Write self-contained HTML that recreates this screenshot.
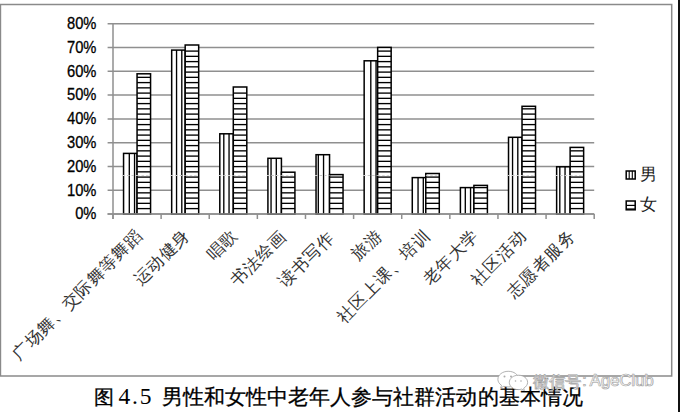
<!DOCTYPE html>
<html><head><meta charset="utf-8"><style>
html,body{margin:0;padding:0;background:#fff;width:680px;height:412px;overflow:hidden}
svg{display:block}
</style></head><body>
<svg width="680" height="412" viewBox="0 0 680 412">
<rect x="0" y="0" width="680" height="412" fill="#fff"/>
<path d="M0.45 4.4 H671.7 V375.9 H0.45 Z" fill="none" stroke="#8a8a8a" stroke-width="1.5"/>
<rect x="678" y="0" width="2" height="412" fill="#111"/>
<line x1="107.6" y1="23.70" x2="594.2" y2="23.70" stroke="#8f8f8f" stroke-width="1.5"/>
<line x1="107.6" y1="47.50" x2="594.2" y2="47.50" stroke="#8f8f8f" stroke-width="1.5"/>
<line x1="107.6" y1="71.30" x2="594.2" y2="71.30" stroke="#8f8f8f" stroke-width="1.5"/>
<line x1="107.6" y1="95.10" x2="594.2" y2="95.10" stroke="#8f8f8f" stroke-width="1.5"/>
<line x1="107.6" y1="118.90" x2="594.2" y2="118.90" stroke="#8f8f8f" stroke-width="1.5"/>
<line x1="107.6" y1="142.70" x2="594.2" y2="142.70" stroke="#8f8f8f" stroke-width="1.5"/>
<line x1="107.6" y1="166.50" x2="594.2" y2="166.50" stroke="#8f8f8f" stroke-width="1.5"/>
<line x1="107.6" y1="190.30" x2="594.2" y2="190.30" stroke="#8f8f8f" stroke-width="1.5"/>
<line x1="107.6" y1="214.10" x2="594.2" y2="214.10" stroke="#8f8f8f" stroke-width="1.5"/>
<rect x="123.56" y="153.40" width="13.5" height="60.70" fill="#fff" stroke="#000" stroke-width="1.5"/>
<line x1="129.30" y1="153.40" x2="129.30" y2="214.1" stroke="#000" stroke-width="1.35"/>
<line x1="134.55" y1="153.40" x2="134.55" y2="214.1" stroke="#000" stroke-width="1.35"/>
<rect x="137.06" y="73.80" width="13.5" height="140.30" fill="#fff" stroke="#000" stroke-width="1.5"/>
<line x1="137.06" y1="208.60" x2="150.56" y2="208.60" stroke="#000" stroke-width="1.35"/>
<line x1="137.06" y1="203.35" x2="150.56" y2="203.35" stroke="#000" stroke-width="1.35"/>
<line x1="137.06" y1="198.10" x2="150.56" y2="198.10" stroke="#000" stroke-width="1.35"/>
<line x1="137.06" y1="192.85" x2="150.56" y2="192.85" stroke="#000" stroke-width="1.35"/>
<line x1="137.06" y1="187.60" x2="150.56" y2="187.60" stroke="#000" stroke-width="1.35"/>
<line x1="137.06" y1="182.35" x2="150.56" y2="182.35" stroke="#000" stroke-width="1.35"/>
<line x1="137.06" y1="177.10" x2="150.56" y2="177.10" stroke="#000" stroke-width="1.35"/>
<line x1="137.06" y1="171.85" x2="150.56" y2="171.85" stroke="#000" stroke-width="1.35"/>
<line x1="137.06" y1="166.60" x2="150.56" y2="166.60" stroke="#000" stroke-width="1.35"/>
<line x1="137.06" y1="161.35" x2="150.56" y2="161.35" stroke="#000" stroke-width="1.35"/>
<line x1="137.06" y1="156.10" x2="150.56" y2="156.10" stroke="#000" stroke-width="1.35"/>
<line x1="137.06" y1="150.85" x2="150.56" y2="150.85" stroke="#000" stroke-width="1.35"/>
<line x1="137.06" y1="145.60" x2="150.56" y2="145.60" stroke="#000" stroke-width="1.35"/>
<line x1="137.06" y1="140.35" x2="150.56" y2="140.35" stroke="#000" stroke-width="1.35"/>
<line x1="137.06" y1="135.10" x2="150.56" y2="135.10" stroke="#000" stroke-width="1.35"/>
<line x1="137.06" y1="129.85" x2="150.56" y2="129.85" stroke="#000" stroke-width="1.35"/>
<line x1="137.06" y1="124.60" x2="150.56" y2="124.60" stroke="#000" stroke-width="1.35"/>
<line x1="137.06" y1="119.35" x2="150.56" y2="119.35" stroke="#000" stroke-width="1.35"/>
<line x1="137.06" y1="114.10" x2="150.56" y2="114.10" stroke="#000" stroke-width="1.35"/>
<line x1="137.06" y1="108.85" x2="150.56" y2="108.85" stroke="#000" stroke-width="1.35"/>
<line x1="137.06" y1="103.60" x2="150.56" y2="103.60" stroke="#000" stroke-width="1.35"/>
<line x1="137.06" y1="98.35" x2="150.56" y2="98.35" stroke="#000" stroke-width="1.35"/>
<line x1="137.06" y1="93.10" x2="150.56" y2="93.10" stroke="#000" stroke-width="1.35"/>
<line x1="137.06" y1="87.85" x2="150.56" y2="87.85" stroke="#000" stroke-width="1.35"/>
<line x1="137.06" y1="82.60" x2="150.56" y2="82.60" stroke="#000" stroke-width="1.35"/>
<line x1="137.06" y1="77.35" x2="150.56" y2="77.35" stroke="#000" stroke-width="1.35"/>
<rect x="171.68" y="50.10" width="13.5" height="164.00" fill="#fff" stroke="#000" stroke-width="1.5"/>
<line x1="176.55" y1="50.10" x2="176.55" y2="214.1" stroke="#000" stroke-width="1.35"/>
<line x1="181.80" y1="50.10" x2="181.80" y2="214.1" stroke="#000" stroke-width="1.35"/>
<rect x="185.18" y="45.00" width="13.5" height="169.10" fill="#fff" stroke="#000" stroke-width="1.5"/>
<line x1="185.18" y1="208.60" x2="198.68" y2="208.60" stroke="#000" stroke-width="1.35"/>
<line x1="185.18" y1="203.35" x2="198.68" y2="203.35" stroke="#000" stroke-width="1.35"/>
<line x1="185.18" y1="198.10" x2="198.68" y2="198.10" stroke="#000" stroke-width="1.35"/>
<line x1="185.18" y1="192.85" x2="198.68" y2="192.85" stroke="#000" stroke-width="1.35"/>
<line x1="185.18" y1="187.60" x2="198.68" y2="187.60" stroke="#000" stroke-width="1.35"/>
<line x1="185.18" y1="182.35" x2="198.68" y2="182.35" stroke="#000" stroke-width="1.35"/>
<line x1="185.18" y1="177.10" x2="198.68" y2="177.10" stroke="#000" stroke-width="1.35"/>
<line x1="185.18" y1="171.85" x2="198.68" y2="171.85" stroke="#000" stroke-width="1.35"/>
<line x1="185.18" y1="166.60" x2="198.68" y2="166.60" stroke="#000" stroke-width="1.35"/>
<line x1="185.18" y1="161.35" x2="198.68" y2="161.35" stroke="#000" stroke-width="1.35"/>
<line x1="185.18" y1="156.10" x2="198.68" y2="156.10" stroke="#000" stroke-width="1.35"/>
<line x1="185.18" y1="150.85" x2="198.68" y2="150.85" stroke="#000" stroke-width="1.35"/>
<line x1="185.18" y1="145.60" x2="198.68" y2="145.60" stroke="#000" stroke-width="1.35"/>
<line x1="185.18" y1="140.35" x2="198.68" y2="140.35" stroke="#000" stroke-width="1.35"/>
<line x1="185.18" y1="135.10" x2="198.68" y2="135.10" stroke="#000" stroke-width="1.35"/>
<line x1="185.18" y1="129.85" x2="198.68" y2="129.85" stroke="#000" stroke-width="1.35"/>
<line x1="185.18" y1="124.60" x2="198.68" y2="124.60" stroke="#000" stroke-width="1.35"/>
<line x1="185.18" y1="119.35" x2="198.68" y2="119.35" stroke="#000" stroke-width="1.35"/>
<line x1="185.18" y1="114.10" x2="198.68" y2="114.10" stroke="#000" stroke-width="1.35"/>
<line x1="185.18" y1="108.85" x2="198.68" y2="108.85" stroke="#000" stroke-width="1.35"/>
<line x1="185.18" y1="103.60" x2="198.68" y2="103.60" stroke="#000" stroke-width="1.35"/>
<line x1="185.18" y1="98.35" x2="198.68" y2="98.35" stroke="#000" stroke-width="1.35"/>
<line x1="185.18" y1="93.10" x2="198.68" y2="93.10" stroke="#000" stroke-width="1.35"/>
<line x1="185.18" y1="87.85" x2="198.68" y2="87.85" stroke="#000" stroke-width="1.35"/>
<line x1="185.18" y1="82.60" x2="198.68" y2="82.60" stroke="#000" stroke-width="1.35"/>
<line x1="185.18" y1="77.35" x2="198.68" y2="77.35" stroke="#000" stroke-width="1.35"/>
<line x1="185.18" y1="72.10" x2="198.68" y2="72.10" stroke="#000" stroke-width="1.35"/>
<line x1="185.18" y1="66.85" x2="198.68" y2="66.85" stroke="#000" stroke-width="1.35"/>
<line x1="185.18" y1="61.60" x2="198.68" y2="61.60" stroke="#000" stroke-width="1.35"/>
<line x1="185.18" y1="56.35" x2="198.68" y2="56.35" stroke="#000" stroke-width="1.35"/>
<line x1="185.18" y1="51.10" x2="198.68" y2="51.10" stroke="#000" stroke-width="1.35"/>
<rect x="219.80" y="133.80" width="13.5" height="80.30" fill="#fff" stroke="#000" stroke-width="1.5"/>
<line x1="223.80" y1="133.80" x2="223.80" y2="214.1" stroke="#000" stroke-width="1.35"/>
<line x1="229.05" y1="133.80" x2="229.05" y2="214.1" stroke="#000" stroke-width="1.35"/>
<rect x="233.30" y="87.00" width="13.5" height="127.10" fill="#fff" stroke="#000" stroke-width="1.5"/>
<line x1="233.30" y1="208.60" x2="246.80" y2="208.60" stroke="#000" stroke-width="1.35"/>
<line x1="233.30" y1="203.35" x2="246.80" y2="203.35" stroke="#000" stroke-width="1.35"/>
<line x1="233.30" y1="198.10" x2="246.80" y2="198.10" stroke="#000" stroke-width="1.35"/>
<line x1="233.30" y1="192.85" x2="246.80" y2="192.85" stroke="#000" stroke-width="1.35"/>
<line x1="233.30" y1="187.60" x2="246.80" y2="187.60" stroke="#000" stroke-width="1.35"/>
<line x1="233.30" y1="182.35" x2="246.80" y2="182.35" stroke="#000" stroke-width="1.35"/>
<line x1="233.30" y1="177.10" x2="246.80" y2="177.10" stroke="#000" stroke-width="1.35"/>
<line x1="233.30" y1="171.85" x2="246.80" y2="171.85" stroke="#000" stroke-width="1.35"/>
<line x1="233.30" y1="166.60" x2="246.80" y2="166.60" stroke="#000" stroke-width="1.35"/>
<line x1="233.30" y1="161.35" x2="246.80" y2="161.35" stroke="#000" stroke-width="1.35"/>
<line x1="233.30" y1="156.10" x2="246.80" y2="156.10" stroke="#000" stroke-width="1.35"/>
<line x1="233.30" y1="150.85" x2="246.80" y2="150.85" stroke="#000" stroke-width="1.35"/>
<line x1="233.30" y1="145.60" x2="246.80" y2="145.60" stroke="#000" stroke-width="1.35"/>
<line x1="233.30" y1="140.35" x2="246.80" y2="140.35" stroke="#000" stroke-width="1.35"/>
<line x1="233.30" y1="135.10" x2="246.80" y2="135.10" stroke="#000" stroke-width="1.35"/>
<line x1="233.30" y1="129.85" x2="246.80" y2="129.85" stroke="#000" stroke-width="1.35"/>
<line x1="233.30" y1="124.60" x2="246.80" y2="124.60" stroke="#000" stroke-width="1.35"/>
<line x1="233.30" y1="119.35" x2="246.80" y2="119.35" stroke="#000" stroke-width="1.35"/>
<line x1="233.30" y1="114.10" x2="246.80" y2="114.10" stroke="#000" stroke-width="1.35"/>
<line x1="233.30" y1="108.85" x2="246.80" y2="108.85" stroke="#000" stroke-width="1.35"/>
<line x1="233.30" y1="103.60" x2="246.80" y2="103.60" stroke="#000" stroke-width="1.35"/>
<line x1="233.30" y1="98.35" x2="246.80" y2="98.35" stroke="#000" stroke-width="1.35"/>
<line x1="233.30" y1="93.10" x2="246.80" y2="93.10" stroke="#000" stroke-width="1.35"/>
<rect x="267.92" y="158.30" width="13.5" height="55.80" fill="#fff" stroke="#000" stroke-width="1.5"/>
<line x1="271.05" y1="158.30" x2="271.05" y2="214.1" stroke="#000" stroke-width="1.35"/>
<line x1="276.30" y1="158.30" x2="276.30" y2="214.1" stroke="#000" stroke-width="1.35"/>
<rect x="281.42" y="172.20" width="13.5" height="41.90" fill="#fff" stroke="#000" stroke-width="1.5"/>
<line x1="281.42" y1="208.60" x2="294.92" y2="208.60" stroke="#000" stroke-width="1.35"/>
<line x1="281.42" y1="203.35" x2="294.92" y2="203.35" stroke="#000" stroke-width="1.35"/>
<line x1="281.42" y1="198.10" x2="294.92" y2="198.10" stroke="#000" stroke-width="1.35"/>
<line x1="281.42" y1="192.85" x2="294.92" y2="192.85" stroke="#000" stroke-width="1.35"/>
<line x1="281.42" y1="187.60" x2="294.92" y2="187.60" stroke="#000" stroke-width="1.35"/>
<line x1="281.42" y1="182.35" x2="294.92" y2="182.35" stroke="#000" stroke-width="1.35"/>
<line x1="281.42" y1="177.10" x2="294.92" y2="177.10" stroke="#000" stroke-width="1.35"/>
<rect x="316.04" y="154.70" width="13.5" height="59.40" fill="#fff" stroke="#000" stroke-width="1.5"/>
<line x1="318.30" y1="154.70" x2="318.30" y2="214.1" stroke="#000" stroke-width="1.35"/>
<line x1="323.55" y1="154.70" x2="323.55" y2="214.1" stroke="#000" stroke-width="1.35"/>
<rect x="329.54" y="174.60" width="13.5" height="39.50" fill="#fff" stroke="#000" stroke-width="1.5"/>
<line x1="329.54" y1="208.60" x2="343.04" y2="208.60" stroke="#000" stroke-width="1.35"/>
<line x1="329.54" y1="203.35" x2="343.04" y2="203.35" stroke="#000" stroke-width="1.35"/>
<line x1="329.54" y1="198.10" x2="343.04" y2="198.10" stroke="#000" stroke-width="1.35"/>
<line x1="329.54" y1="192.85" x2="343.04" y2="192.85" stroke="#000" stroke-width="1.35"/>
<line x1="329.54" y1="187.60" x2="343.04" y2="187.60" stroke="#000" stroke-width="1.35"/>
<line x1="329.54" y1="182.35" x2="343.04" y2="182.35" stroke="#000" stroke-width="1.35"/>
<line x1="329.54" y1="177.10" x2="343.04" y2="177.10" stroke="#000" stroke-width="1.35"/>
<rect x="364.16" y="60.80" width="13.5" height="153.30" fill="#fff" stroke="#000" stroke-width="1.5"/>
<line x1="370.80" y1="60.80" x2="370.80" y2="214.1" stroke="#000" stroke-width="1.35"/>
<line x1="376.05" y1="60.80" x2="376.05" y2="214.1" stroke="#000" stroke-width="1.35"/>
<rect x="377.66" y="47.40" width="13.5" height="166.70" fill="#fff" stroke="#000" stroke-width="1.5"/>
<line x1="377.66" y1="208.60" x2="391.16" y2="208.60" stroke="#000" stroke-width="1.35"/>
<line x1="377.66" y1="203.35" x2="391.16" y2="203.35" stroke="#000" stroke-width="1.35"/>
<line x1="377.66" y1="198.10" x2="391.16" y2="198.10" stroke="#000" stroke-width="1.35"/>
<line x1="377.66" y1="192.85" x2="391.16" y2="192.85" stroke="#000" stroke-width="1.35"/>
<line x1="377.66" y1="187.60" x2="391.16" y2="187.60" stroke="#000" stroke-width="1.35"/>
<line x1="377.66" y1="182.35" x2="391.16" y2="182.35" stroke="#000" stroke-width="1.35"/>
<line x1="377.66" y1="177.10" x2="391.16" y2="177.10" stroke="#000" stroke-width="1.35"/>
<line x1="377.66" y1="171.85" x2="391.16" y2="171.85" stroke="#000" stroke-width="1.35"/>
<line x1="377.66" y1="166.60" x2="391.16" y2="166.60" stroke="#000" stroke-width="1.35"/>
<line x1="377.66" y1="161.35" x2="391.16" y2="161.35" stroke="#000" stroke-width="1.35"/>
<line x1="377.66" y1="156.10" x2="391.16" y2="156.10" stroke="#000" stroke-width="1.35"/>
<line x1="377.66" y1="150.85" x2="391.16" y2="150.85" stroke="#000" stroke-width="1.35"/>
<line x1="377.66" y1="145.60" x2="391.16" y2="145.60" stroke="#000" stroke-width="1.35"/>
<line x1="377.66" y1="140.35" x2="391.16" y2="140.35" stroke="#000" stroke-width="1.35"/>
<line x1="377.66" y1="135.10" x2="391.16" y2="135.10" stroke="#000" stroke-width="1.35"/>
<line x1="377.66" y1="129.85" x2="391.16" y2="129.85" stroke="#000" stroke-width="1.35"/>
<line x1="377.66" y1="124.60" x2="391.16" y2="124.60" stroke="#000" stroke-width="1.35"/>
<line x1="377.66" y1="119.35" x2="391.16" y2="119.35" stroke="#000" stroke-width="1.35"/>
<line x1="377.66" y1="114.10" x2="391.16" y2="114.10" stroke="#000" stroke-width="1.35"/>
<line x1="377.66" y1="108.85" x2="391.16" y2="108.85" stroke="#000" stroke-width="1.35"/>
<line x1="377.66" y1="103.60" x2="391.16" y2="103.60" stroke="#000" stroke-width="1.35"/>
<line x1="377.66" y1="98.35" x2="391.16" y2="98.35" stroke="#000" stroke-width="1.35"/>
<line x1="377.66" y1="93.10" x2="391.16" y2="93.10" stroke="#000" stroke-width="1.35"/>
<line x1="377.66" y1="87.85" x2="391.16" y2="87.85" stroke="#000" stroke-width="1.35"/>
<line x1="377.66" y1="82.60" x2="391.16" y2="82.60" stroke="#000" stroke-width="1.35"/>
<line x1="377.66" y1="77.35" x2="391.16" y2="77.35" stroke="#000" stroke-width="1.35"/>
<line x1="377.66" y1="72.10" x2="391.16" y2="72.10" stroke="#000" stroke-width="1.35"/>
<line x1="377.66" y1="66.85" x2="391.16" y2="66.85" stroke="#000" stroke-width="1.35"/>
<line x1="377.66" y1="61.60" x2="391.16" y2="61.60" stroke="#000" stroke-width="1.35"/>
<line x1="377.66" y1="56.35" x2="391.16" y2="56.35" stroke="#000" stroke-width="1.35"/>
<line x1="377.66" y1="51.10" x2="391.16" y2="51.10" stroke="#000" stroke-width="1.35"/>
<rect x="412.28" y="177.60" width="13.5" height="36.50" fill="#fff" stroke="#000" stroke-width="1.5"/>
<line x1="418.05" y1="177.60" x2="418.05" y2="214.1" stroke="#000" stroke-width="1.35"/>
<line x1="423.30" y1="177.60" x2="423.30" y2="214.1" stroke="#000" stroke-width="1.35"/>
<rect x="425.78" y="173.50" width="13.5" height="40.60" fill="#fff" stroke="#000" stroke-width="1.5"/>
<line x1="425.78" y1="208.60" x2="439.28" y2="208.60" stroke="#000" stroke-width="1.35"/>
<line x1="425.78" y1="203.35" x2="439.28" y2="203.35" stroke="#000" stroke-width="1.35"/>
<line x1="425.78" y1="198.10" x2="439.28" y2="198.10" stroke="#000" stroke-width="1.35"/>
<line x1="425.78" y1="192.85" x2="439.28" y2="192.85" stroke="#000" stroke-width="1.35"/>
<line x1="425.78" y1="187.60" x2="439.28" y2="187.60" stroke="#000" stroke-width="1.35"/>
<line x1="425.78" y1="182.35" x2="439.28" y2="182.35" stroke="#000" stroke-width="1.35"/>
<line x1="425.78" y1="177.10" x2="439.28" y2="177.10" stroke="#000" stroke-width="1.35"/>
<rect x="460.40" y="187.60" width="13.5" height="26.50" fill="#fff" stroke="#000" stroke-width="1.5"/>
<line x1="465.30" y1="187.60" x2="465.30" y2="214.1" stroke="#000" stroke-width="1.35"/>
<line x1="470.55" y1="187.60" x2="470.55" y2="214.1" stroke="#000" stroke-width="1.35"/>
<rect x="473.90" y="185.40" width="13.5" height="28.70" fill="#fff" stroke="#000" stroke-width="1.5"/>
<line x1="473.90" y1="208.60" x2="487.40" y2="208.60" stroke="#000" stroke-width="1.35"/>
<line x1="473.90" y1="203.35" x2="487.40" y2="203.35" stroke="#000" stroke-width="1.35"/>
<line x1="473.90" y1="198.10" x2="487.40" y2="198.10" stroke="#000" stroke-width="1.35"/>
<line x1="473.90" y1="192.85" x2="487.40" y2="192.85" stroke="#000" stroke-width="1.35"/>
<line x1="473.90" y1="187.60" x2="487.40" y2="187.60" stroke="#000" stroke-width="1.35"/>
<rect x="508.52" y="137.30" width="13.5" height="76.80" fill="#fff" stroke="#000" stroke-width="1.5"/>
<line x1="512.55" y1="137.30" x2="512.55" y2="214.1" stroke="#000" stroke-width="1.35"/>
<line x1="517.80" y1="137.30" x2="517.80" y2="214.1" stroke="#000" stroke-width="1.35"/>
<rect x="522.02" y="106.30" width="13.5" height="107.80" fill="#fff" stroke="#000" stroke-width="1.5"/>
<line x1="522.02" y1="208.60" x2="535.52" y2="208.60" stroke="#000" stroke-width="1.35"/>
<line x1="522.02" y1="203.35" x2="535.52" y2="203.35" stroke="#000" stroke-width="1.35"/>
<line x1="522.02" y1="198.10" x2="535.52" y2="198.10" stroke="#000" stroke-width="1.35"/>
<line x1="522.02" y1="192.85" x2="535.52" y2="192.85" stroke="#000" stroke-width="1.35"/>
<line x1="522.02" y1="187.60" x2="535.52" y2="187.60" stroke="#000" stroke-width="1.35"/>
<line x1="522.02" y1="182.35" x2="535.52" y2="182.35" stroke="#000" stroke-width="1.35"/>
<line x1="522.02" y1="177.10" x2="535.52" y2="177.10" stroke="#000" stroke-width="1.35"/>
<line x1="522.02" y1="171.85" x2="535.52" y2="171.85" stroke="#000" stroke-width="1.35"/>
<line x1="522.02" y1="166.60" x2="535.52" y2="166.60" stroke="#000" stroke-width="1.35"/>
<line x1="522.02" y1="161.35" x2="535.52" y2="161.35" stroke="#000" stroke-width="1.35"/>
<line x1="522.02" y1="156.10" x2="535.52" y2="156.10" stroke="#000" stroke-width="1.35"/>
<line x1="522.02" y1="150.85" x2="535.52" y2="150.85" stroke="#000" stroke-width="1.35"/>
<line x1="522.02" y1="145.60" x2="535.52" y2="145.60" stroke="#000" stroke-width="1.35"/>
<line x1="522.02" y1="140.35" x2="535.52" y2="140.35" stroke="#000" stroke-width="1.35"/>
<line x1="522.02" y1="135.10" x2="535.52" y2="135.10" stroke="#000" stroke-width="1.35"/>
<line x1="522.02" y1="129.85" x2="535.52" y2="129.85" stroke="#000" stroke-width="1.35"/>
<line x1="522.02" y1="124.60" x2="535.52" y2="124.60" stroke="#000" stroke-width="1.35"/>
<line x1="522.02" y1="119.35" x2="535.52" y2="119.35" stroke="#000" stroke-width="1.35"/>
<line x1="522.02" y1="114.10" x2="535.52" y2="114.10" stroke="#000" stroke-width="1.35"/>
<line x1="522.02" y1="108.85" x2="535.52" y2="108.85" stroke="#000" stroke-width="1.35"/>
<rect x="556.64" y="166.80" width="13.5" height="47.30" fill="#fff" stroke="#000" stroke-width="1.5"/>
<line x1="559.80" y1="166.80" x2="559.80" y2="214.1" stroke="#000" stroke-width="1.35"/>
<line x1="565.05" y1="166.80" x2="565.05" y2="214.1" stroke="#000" stroke-width="1.35"/>
<rect x="570.14" y="147.40" width="13.5" height="66.70" fill="#fff" stroke="#000" stroke-width="1.5"/>
<line x1="570.14" y1="208.60" x2="583.64" y2="208.60" stroke="#000" stroke-width="1.35"/>
<line x1="570.14" y1="203.35" x2="583.64" y2="203.35" stroke="#000" stroke-width="1.35"/>
<line x1="570.14" y1="198.10" x2="583.64" y2="198.10" stroke="#000" stroke-width="1.35"/>
<line x1="570.14" y1="192.85" x2="583.64" y2="192.85" stroke="#000" stroke-width="1.35"/>
<line x1="570.14" y1="187.60" x2="583.64" y2="187.60" stroke="#000" stroke-width="1.35"/>
<line x1="570.14" y1="182.35" x2="583.64" y2="182.35" stroke="#000" stroke-width="1.35"/>
<line x1="570.14" y1="177.10" x2="583.64" y2="177.10" stroke="#000" stroke-width="1.35"/>
<line x1="570.14" y1="171.85" x2="583.64" y2="171.85" stroke="#000" stroke-width="1.35"/>
<line x1="570.14" y1="166.60" x2="583.64" y2="166.60" stroke="#000" stroke-width="1.35"/>
<line x1="570.14" y1="161.35" x2="583.64" y2="161.35" stroke="#000" stroke-width="1.35"/>
<line x1="570.14" y1="156.10" x2="583.64" y2="156.10" stroke="#000" stroke-width="1.35"/>
<line x1="570.14" y1="150.85" x2="583.64" y2="150.85" stroke="#000" stroke-width="1.35"/>
<line x1="122.56" y1="175.5" x2="137.06" y2="175.5" stroke="#c8c8c8" stroke-width="1" stroke-dasharray="2.5 2"/>
<line x1="137.06" y1="175.5" x2="150.56" y2="175.5" stroke="#d0d0d0" stroke-width="0.8" stroke-dasharray="2.5 2"/>
<line x1="170.68" y1="175.5" x2="185.18" y2="175.5" stroke="#c8c8c8" stroke-width="1" stroke-dasharray="2.5 2"/>
<line x1="185.18" y1="175.5" x2="198.68" y2="175.5" stroke="#d0d0d0" stroke-width="0.8" stroke-dasharray="2.5 2"/>
<line x1="218.80" y1="175.5" x2="233.30" y2="175.5" stroke="#c8c8c8" stroke-width="1" stroke-dasharray="2.5 2"/>
<line x1="233.30" y1="175.5" x2="246.80" y2="175.5" stroke="#d0d0d0" stroke-width="0.8" stroke-dasharray="2.5 2"/>
<line x1="266.92" y1="175.5" x2="281.42" y2="175.5" stroke="#c8c8c8" stroke-width="1" stroke-dasharray="2.5 2"/>
<line x1="281.42" y1="175.5" x2="294.92" y2="175.5" stroke="#d0d0d0" stroke-width="0.8" stroke-dasharray="2.5 2"/>
<line x1="315.04" y1="175.5" x2="329.54" y2="175.5" stroke="#c8c8c8" stroke-width="1" stroke-dasharray="2.5 2"/>
<line x1="363.16" y1="175.5" x2="377.66" y2="175.5" stroke="#c8c8c8" stroke-width="1" stroke-dasharray="2.5 2"/>
<line x1="377.66" y1="175.5" x2="391.16" y2="175.5" stroke="#d0d0d0" stroke-width="0.8" stroke-dasharray="2.5 2"/>
<line x1="425.78" y1="175.5" x2="439.28" y2="175.5" stroke="#d0d0d0" stroke-width="0.8" stroke-dasharray="2.5 2"/>
<line x1="507.52" y1="175.5" x2="522.02" y2="175.5" stroke="#c8c8c8" stroke-width="1" stroke-dasharray="2.5 2"/>
<line x1="522.02" y1="175.5" x2="535.52" y2="175.5" stroke="#d0d0d0" stroke-width="0.8" stroke-dasharray="2.5 2"/>
<line x1="555.64" y1="175.5" x2="570.14" y2="175.5" stroke="#c8c8c8" stroke-width="1" stroke-dasharray="2.5 2"/>
<line x1="570.14" y1="175.5" x2="583.64" y2="175.5" stroke="#d0d0d0" stroke-width="0.8" stroke-dasharray="2.5 2"/>
<line x1="113.0" y1="23.70" x2="113.0" y2="219" stroke="#8f8f8f" stroke-width="1.5"/>
<line x1="107.6" y1="214.1" x2="594.2" y2="214.1" stroke="#8f8f8f" stroke-width="1.5"/>
<line x1="113.00" y1="214.1" x2="113.00" y2="219" stroke="#8f8f8f" stroke-width="1.5"/>
<line x1="161.12" y1="214.1" x2="161.12" y2="219" stroke="#8f8f8f" stroke-width="1.5"/>
<line x1="209.24" y1="214.1" x2="209.24" y2="219" stroke="#8f8f8f" stroke-width="1.5"/>
<line x1="257.36" y1="214.1" x2="257.36" y2="219" stroke="#8f8f8f" stroke-width="1.5"/>
<line x1="305.48" y1="214.1" x2="305.48" y2="219" stroke="#8f8f8f" stroke-width="1.5"/>
<line x1="353.60" y1="214.1" x2="353.60" y2="219" stroke="#8f8f8f" stroke-width="1.5"/>
<line x1="401.72" y1="214.1" x2="401.72" y2="219" stroke="#8f8f8f" stroke-width="1.5"/>
<line x1="449.84" y1="214.1" x2="449.84" y2="219" stroke="#8f8f8f" stroke-width="1.5"/>
<line x1="497.96" y1="214.1" x2="497.96" y2="219" stroke="#8f8f8f" stroke-width="1.5"/>
<line x1="546.08" y1="214.1" x2="546.08" y2="219" stroke="#8f8f8f" stroke-width="1.5"/>
<line x1="594.20" y1="214.1" x2="594.20" y2="219" stroke="#8f8f8f" stroke-width="1.5"/>
<text transform="translate(96.4,28.90) scale(0.92,1)" x="0" y="0" text-anchor="end" font-family="Liberation Sans" font-size="16" fill="#000" stroke="#000" stroke-width="0.3">80%</text>
<text transform="translate(96.4,52.70) scale(0.92,1)" x="0" y="0" text-anchor="end" font-family="Liberation Sans" font-size="16" fill="#000" stroke="#000" stroke-width="0.3">70%</text>
<text transform="translate(96.4,76.50) scale(0.92,1)" x="0" y="0" text-anchor="end" font-family="Liberation Sans" font-size="16" fill="#000" stroke="#000" stroke-width="0.3">60%</text>
<text transform="translate(96.4,100.30) scale(0.92,1)" x="0" y="0" text-anchor="end" font-family="Liberation Sans" font-size="16" fill="#000" stroke="#000" stroke-width="0.3">50%</text>
<text transform="translate(96.4,124.10) scale(0.92,1)" x="0" y="0" text-anchor="end" font-family="Liberation Sans" font-size="16" fill="#000" stroke="#000" stroke-width="0.3">40%</text>
<text transform="translate(96.4,147.90) scale(0.92,1)" x="0" y="0" text-anchor="end" font-family="Liberation Sans" font-size="16" fill="#000" stroke="#000" stroke-width="0.3">30%</text>
<text transform="translate(96.4,171.70) scale(0.92,1)" x="0" y="0" text-anchor="end" font-family="Liberation Sans" font-size="16" fill="#000" stroke="#000" stroke-width="0.3">20%</text>
<text transform="translate(96.4,195.50) scale(0.92,1)" x="0" y="0" text-anchor="end" font-family="Liberation Sans" font-size="16" fill="#000" stroke="#000" stroke-width="0.3">10%</text>
<text transform="translate(96.4,219.30) scale(0.92,1)" x="0" y="0" text-anchor="end" font-family="Liberation Sans" font-size="16" fill="#000" stroke="#000" stroke-width="0.3">0%</text>
<text transform="translate(139.36,232.60) rotate(-45)" x="0" y="0" text-anchor="end" font-family="Liberation Serif" font-size="16.8" letter-spacing="0.55" fill="#333" dominant-baseline="central">广场舞、交际舞等舞蹈</text>
<text transform="translate(186.98,232.20) rotate(-45)" x="0" y="0" text-anchor="end" font-family="Liberation Serif" font-size="16.8" letter-spacing="0.7" fill="#333" dominant-baseline="central">运动健身</text>
<text transform="translate(235.10,232.20) rotate(-45)" x="0" y="0" text-anchor="end" font-family="Liberation Serif" font-size="16.8" letter-spacing="0.7" fill="#333" dominant-baseline="central">唱歌</text>
<text transform="translate(283.22,233.10) rotate(-45)" x="0" y="0" text-anchor="end" font-family="Liberation Serif" font-size="16.8" letter-spacing="0.7" fill="#333" dominant-baseline="central">书法绘画</text>
<text transform="translate(331.34,234.10) rotate(-45)" x="0" y="0" text-anchor="end" font-family="Liberation Serif" font-size="16.8" letter-spacing="0.7" fill="#333" dominant-baseline="central">读书写作</text>
<text transform="translate(379.46,232.20) rotate(-45)" x="0" y="0" text-anchor="end" font-family="Liberation Serif" font-size="16.8" letter-spacing="0.7" fill="#333" dominant-baseline="central">旅游</text>
<text transform="translate(427.58,232.40) rotate(-45)" x="0" y="0" text-anchor="end" font-family="Liberation Serif" font-size="16.8" letter-spacing="0.7" fill="#333" dominant-baseline="central">社区上课、培训</text>
<text transform="translate(475.70,232.20) rotate(-45)" x="0" y="0" text-anchor="end" font-family="Liberation Serif" font-size="16.8" letter-spacing="0.7" fill="#333" dominant-baseline="central">老年大学</text>
<text transform="translate(523.82,232.60) rotate(-45)" x="0" y="0" text-anchor="end" font-family="Liberation Serif" font-size="16.8" letter-spacing="0.7" fill="#333" dominant-baseline="central">社区活动</text>
<text transform="translate(572.44,233.00) rotate(-45)" x="0" y="0" text-anchor="end" font-family="Liberation Serif" font-size="16.8" letter-spacing="0.7" fill="#333" dominant-baseline="central">志愿者服务</text>
<rect x="626.2" y="171.0" width="9" height="8" fill="#fff" stroke="#000" stroke-width="1.5"/>
<line x1="629.2" y1="171" x2="629.2" y2="179" stroke="#000" stroke-width="1.1"/>
<line x1="632.3" y1="171" x2="632.3" y2="179" stroke="#000" stroke-width="1.1"/>
<rect x="626.2" y="201.0" width="9" height="8.8" fill="#fff" stroke="#000" stroke-width="1.5"/>
<line x1="626.2" y1="205.4" x2="635.2" y2="205.4" stroke="#000" stroke-width="1.2"/>
<line x1="626.2" y1="208.9" x2="635.2" y2="208.9" stroke="#000" stroke-width="1.0"/>
<text x="639.8" y="180.2" font-family="Liberation Serif" font-size="16.5" fill="#222">男</text>
<text x="640" y="210.3" font-family="Liberation Serif" font-size="16.5" fill="#222">女</text>
<text x="94" y="404" font-family="Liberation Serif" font-size="20" stroke="#000" stroke-width="0.3" fill="#000">图</text>
<text y="404.4" font-family="Liberation Serif" font-size="23.5" fill="#000"><tspan x="118.5">4</tspan><tspan x="132">.</tspan><tspan x="139.8">5</tspan></text>
<text x="161.8" y="404" font-family="Liberation Serif" font-size="21" letter-spacing="0.05" stroke="#000" stroke-width="0.3" fill="#000">男性和女性中老年人参与社群活动的基本情况</text>
<g>
<g fill="#fff" stroke="#a0a0a0" stroke-width="0.8">
<path d="M508.2 371.3 c-5.8 0 -10.3 3.6 -10.3 8 c0 2.5 1.4 4.6 3.6 6 l-0.9 2.6 l3.2 -1.6 c1.4 0.4 2.8 0.6 4.4 0.6 c5.8 0 10.3 -3.6 10.3 -7.9 c0 -4.4 -4.5 -7.7 -10.3 -7.7 z"/>
<path d="M518.5 375.2 c-5.2 0 -9.2 3.3 -9.2 7.2 c0 4 4 7.2 9.2 7.2 c1.1 0 2.1 -0.2 3.1 -0.5 l2.8 1.5 l-0.7 -2.4 c2.3 -1.3 3.9 -3.5 3.9 -5.8 c0 -4 -4 -7.2 -9.1 -7.2 z"/>
</g>
<g fill="#aaa"><circle cx="504.5" cy="376.5" r="1"/><circle cx="511" cy="376.5" r="1"/><circle cx="515.5" cy="381" r="0.8"/><circle cx="521" cy="381" r="0.8"/></g>
<g font-family="Liberation Sans" fill="#c8c8c8">
<text x="533.8" y="387.6" font-size="16">微信号</text>
<text x="582.8" y="386.2" font-size="16.5">:</text>
<text x="590.3" y="386.2" font-size="16.7">AgeClub</text>
</g>
<g font-family="Liberation Sans" fill="#fff" stroke="#9c9c9c" stroke-width="0.55">
<text x="533" y="386.8" font-size="16">微信号</text>
<text x="582" y="385.5" font-size="16.5">:</text>
<text x="589.5" y="385.5" font-size="16.7">AgeClub</text>
</g>
</g>
</svg>
</body></html>
